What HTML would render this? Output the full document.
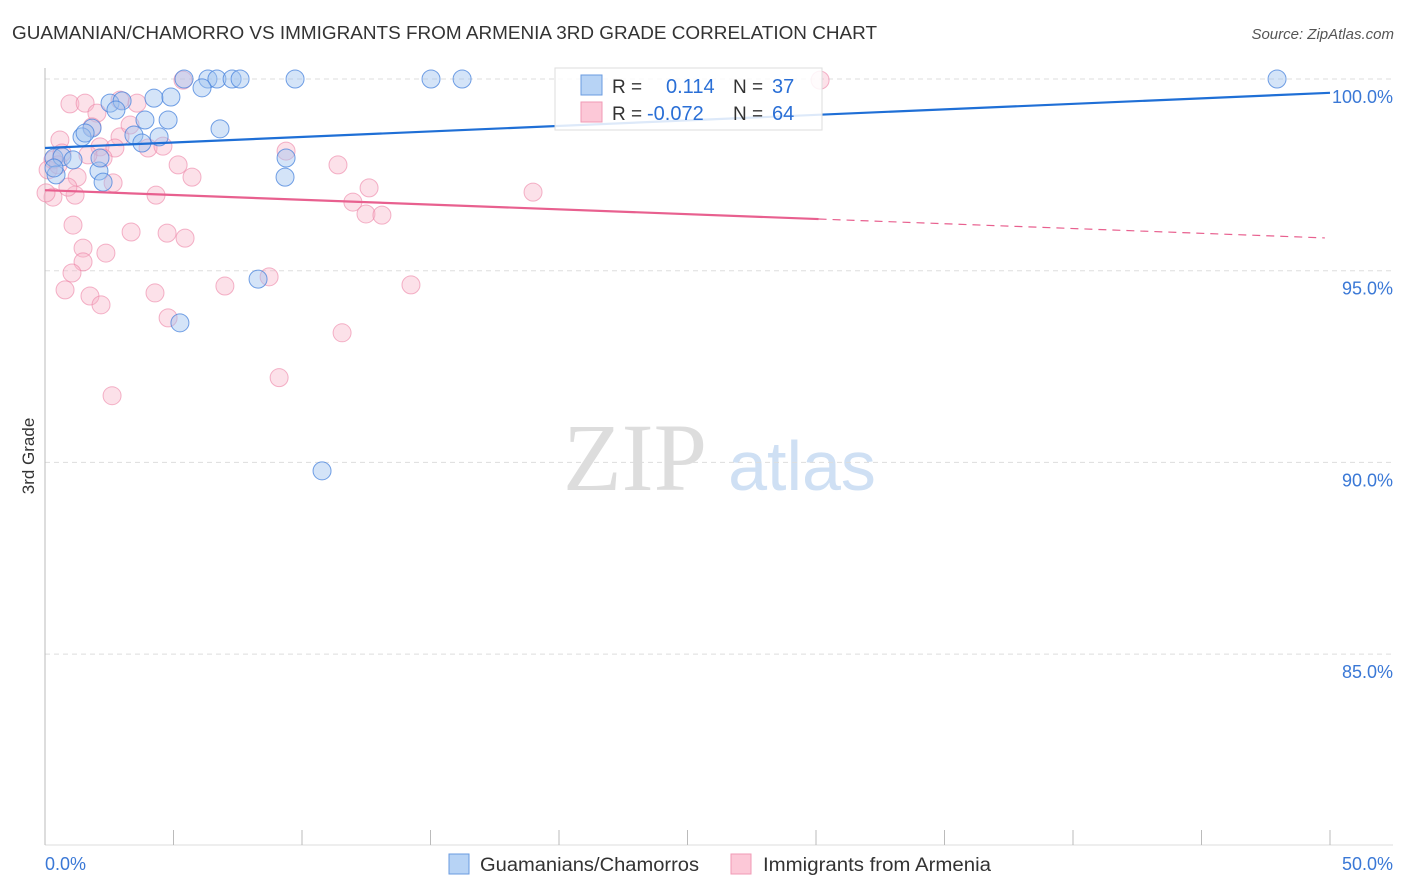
<!DOCTYPE html>
<html><head><meta charset="utf-8"><style>
body{margin:0;background:#fff;font-family:"Liberation Sans",sans-serif}
svg{display:block}
</style></head><body>
<svg id="c" width="1406" height="892" xmlns="http://www.w3.org/2000/svg">
<text x="12" y="39" font-size="18" fill="#333" textLength="865" lengthAdjust="spacingAndGlyphs">GUAMANIAN/CHAMORRO VS IMMIGRANTS FROM ARMENIA 3RD GRADE CORRELATION CHART</text>
<text x="1394" y="39" font-size="15" fill="#555" text-anchor="end" font-style="italic">Source: ZipAtlas.com</text>
<text x="34" y="456" font-size="17" fill="#333" text-anchor="middle" transform="rotate(-90 34 456)">3rd Grade</text>
<g><text x="635" y="490" font-size="96" fill="#ddd" font-family="Liberation Serif" text-anchor="middle">ZIP</text><text x="802" y="490" font-size="70" fill="#cfe0f4" text-anchor="middle">atlas</text></g>
<g id="grid"></g><g id="axes"></g><g id="pts"></g><g id="lines"></g>
<g>
<rect x="555" y="68" width="267" height="62" fill="#fff" fill-opacity="0.85" stroke="#ddd"/>
<rect x="581" y="75" width="21" height="20" fill="#b7d3f5" stroke="#6a9be0"/>
<rect x="581" y="102" width="21" height="20" fill="#fcc8d7" stroke="#f09ab5"/>
<text x="612" y="93" font-size="19" fill="#333">R =</text><text x="666" y="93" font-size="20" fill="#2a6fd6">0.114</text>
<text x="733" y="93" font-size="19" fill="#333">N =</text><text x="772" y="93" font-size="20" fill="#2a6fd6">37</text>
<text x="612" y="120" font-size="19" fill="#333">R =</text><text x="647" y="120" font-size="20" fill="#2a6fd6">-0.072</text>
<text x="733" y="120" font-size="19" fill="#333">N =</text><text x="772" y="120" font-size="20" fill="#2a6fd6">64</text>
</g>
<g>
<rect x="449" y="854" width="20" height="20" fill="#b7d3f5" stroke="#6a9be0"/>
<text x="480" y="871" font-size="19" fill="#333" textLength="219" lengthAdjust="spacingAndGlyphs">Guamanians/Chamorros</text>
<rect x="731" y="854" width="20" height="20" fill="#fcc8d7" stroke="#f09ab5"/>
<text x="763" y="871" font-size="19" fill="#333" textLength="228" lengthAdjust="spacingAndGlyphs">Immigrants from Armenia</text>
</g>
</svg>
<script>
const blueX=[5.41,6.34,6.69,7.28,7.59,9.73,15.02,16.23,47.94,6.11,4.24,4.90,2.53,3.00,2.76,3.89,4.79,6.81,1.83,1.44,1.56,3.46,4.44,3.77,0.35,0.66,1.09,2.10,2.26,0.43,0.35,9.38,9.34,8.29,5.25,10.78,2.14];
const blueY=[100,100,100,100,100,100,100,100,100,99.77,99.50,99.53,99.37,99.43,99.19,98.93,98.93,98.70,98.72,98.49,98.59,98.54,98.49,98.33,97.94,97.97,97.89,97.60,97.31,97.50,97.68,97.94,97.44,94.78,93.64,89.78,97.94];
const pinkX=[5.37,0.97,1.56,2.02,2.92,3.58,1.83,2.92,3.31,2.14,2.72,2.26,1.67,4.01,4.59,1.25,2.65,0.58,0.31,1.17,0.31,4.32,5.18,5.72,9.38,1.09,3.35,4.75,5.45,1.48,2.37,1.48,1.05,0.78,1.75,2.18,4.28,7.00,8.72,4.79,11.40,11.56,9.11,2.61,12.61,11.98,12.49,13.11,18.99,14.24,30.16,0.12,0.04,0.66,0.89,0.51];
const pinkY=[99.97,99.35,99.37,99.11,99.45,99.37,98.75,98.49,98.80,98.23,98.20,97.94,98.02,98.20,98.25,97.44,97.29,98.41,97.89,96.97,96.92,96.97,97.76,97.44,98.12,96.19,96.01,95.98,95.85,95.59,95.46,95.23,94.94,94.50,94.34,94.11,94.42,94.60,94.84,93.77,97.76,93.38,92.21,91.74,97.16,96.79,96.48,96.45,97.05,94.63,99.97,97.63,97.03,98.07,97.18,97.76];
const yTicks=[100,95,90,85];
const yTickLabels=["100.0%","95.0%","90.0%","85.0%"];
const xTicks=[0,5,10,15,20,25,30,35,40,45,50];
const blueTrend=[98.20,99.64];
const pinkTrend=[97.10,95.85];
const NS='http://www.w3.org/2000/svg';
const sx=v=>45+v*25.7, sy=v=>79+(100-v)*38.34;
function mk(t,a,p){const e=document.createElementNS(NS,t);for(const k in a)e.setAttribute(k,a[k]);document.getElementById(p).appendChild(e);return e;}
yTicks.forEach((t,i)=>{
 const l=mk('line',{x1:45,x2:1393,y1:sy(t),y2:sy(t),stroke:'#ddd','stroke-dasharray':'5,4'},'grid');
 
 
 const tx=mk('text',{x:1393,y:sy(t)+24,'font-size':18,fill:'#3a78d6','text-anchor':'end'},'grid');
 tx.textContent=yTickLabels[i];
 
 
});
const ax=mk('line',{x1:45,x2:45,y1:68,y2:845,stroke:'#bbb'},'axes');


const bx=mk('line',{x1:45,x2:1393,y1:845,y2:845,stroke:'#ddd'},'axes');


xTicks.forEach(t=>{const l=mk('line',{x1:sx(t),x2:sx(t),y1:830,y2:845,stroke:'#bbb'},'axes');
 
 });
const x0=mk('text',{x:45,y:870,'font-size':18,fill:'#3a78d6'},'axes');x0.textContent='0.0%';


const x1=mk('text',{x:1393,y:870,'font-size':18,fill:'#3a78d6','text-anchor':'end'},'axes');x1.textContent='50.0%';


pinkX.forEach((x,i)=>{const c=mk('circle',{cx:sx(x),cy:sy(pinkY[i]),r:9,fill:'rgba(248,180,200,0.4)',stroke:'rgba(236,130,165,0.6)'},'pts');
 
 });
blueX.forEach((x,i)=>{const c=mk('circle',{cx:sx(x),cy:sy(blueY[i]),r:9,fill:'rgba(160,196,240,0.45)',stroke:'rgba(70,130,220,0.75)'},'pts');
 
 });
const bl=mk('line',{x1:sx(0),y1:sy(blueTrend[0]),x2:sx(50),y2:sy(blueTrend[1]),stroke:'#1f6fd6','stroke-width':2.2},'lines');


const pm=pinkTrend[0]+(pinkTrend[1]-pinkTrend[0])*30.1/50;
const pl=mk('line',{x1:sx(0),y1:sy(pinkTrend[0]),x2:sx(30.1),y2:sy(pm),stroke:'#e8608f','stroke-width':2.2},'lines');


const pd=mk('line',{x1:sx(30.1),y1:sy(pm),x2:sx(49.8),y2:sy(pinkTrend[0]+(pinkTrend[1]-pinkTrend[0])*49.8/50),stroke:'#e8608f','stroke-width':1.2,'stroke-dasharray':'8,6'},'lines');


</script>
</body></html>
